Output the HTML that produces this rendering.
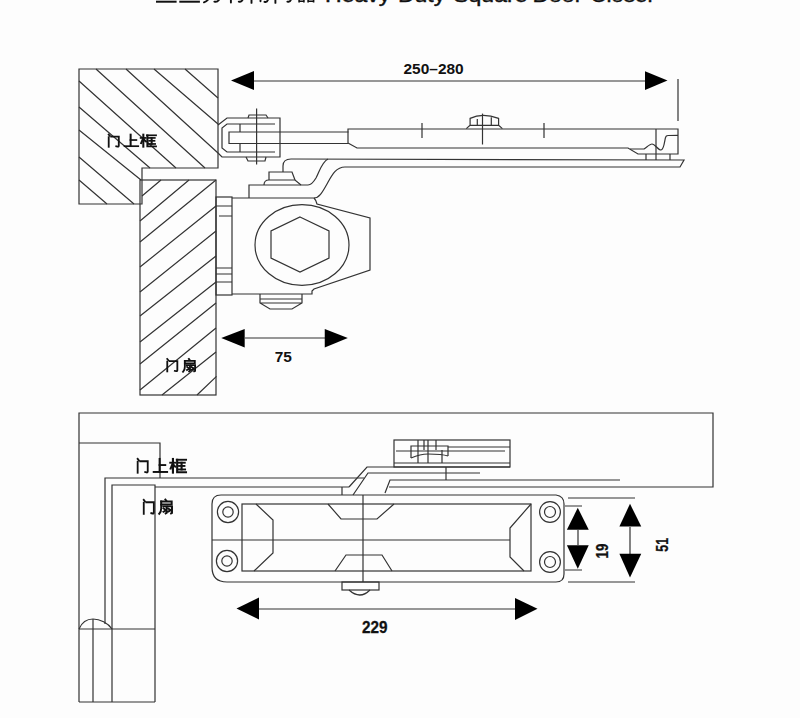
<!DOCTYPE html>
<html>
<head>
<meta charset="utf-8">
<style>
html,body{margin:0;padding:0;background:#fdfdfd;width:800px;height:718px;overflow:hidden;}
svg{position:absolute;left:0;top:0;display:block;}
text{font-family:"Liberation Sans",sans-serif;}
</style>
</head>
<body>
<svg width="800" height="718" viewBox="0 0 800 718">
<defs>
<g id="gmen" fill="none" stroke="#111" stroke-width="13" stroke-linecap="square">
<path d="M14,4 L22,14"/><path d="M14,24 L14,98"/><path d="M32,20 L86,20 L86,90 Q86,97 78,96 L68,94"/>
</g>
<g id="gshang" fill="none" stroke="#111" stroke-width="13" stroke-linecap="square">
<path d="M46,4 L46,92"/><path d="M46,46 L82,46"/><path d="M8,93 L94,93"/>
</g>
<g id="gkuang" fill="none" stroke="#111" stroke-width="13" stroke-linecap="square">
<path d="M2,30 L32,30"/><path d="M18,4 L18,98"/><path d="M17,34 L4,70"/><path d="M22,44 L32,56"/>
<path d="M42,10 L98,10"/><path d="M44,10 L44,95 L98,95"/><path d="M54,30 L90,30"/><path d="M56,52 L88,52"/><path d="M52,76 L92,76"/><path d="M71,30 L71,76"/>
</g>
<g id="gshan" fill="none" stroke="#111" stroke-width="13" stroke-linecap="square">
<path d="M46,2 L52,10"/><path d="M18,16 L88,16 L88,36 L18,36"/><path d="M18,16 L18,60 Q18,85 5,98"/>
<path d="M32,48 L54,48 L54,92 L48,95"/><path d="M34,62 L44,70"/><path d="M33,84 L47,76"/>
<path d="M62,48 L90,48 L90,92 L84,95"/><path d="M64,62 L76,70"/><path d="M63,84 L78,76"/>
</g>
</defs>

<!-- ================= TITLE STRIP ================= -->
<g fill="#111" stroke="none">
<rect x="156" y="0.7" width="20.6" height="2"/>
<rect x="179.3" y="0.7" width="20.6" height="2"/>
</g>
<g fill="none" stroke="#111" stroke-width="1.9" stroke-linecap="round">
<path d="M204,2.4 Q206.5,1.6 207.8,0"/>
<path d="M214.4,1.6 Q217,2.4 218.9,0"/>
<path d="M230.9,0 L230.9,2.6"/>
<path d="M238.8,1.6 Q241.5,2.4 242.5,0"/>
<path d="M251.5,0 L251.5,2.9"/>
<path d="M260.5,0 L260.5,1.2"/>
<path d="M264.5,1.8 Q267,2.6 267.9,0"/>
<path d="M275.4,0 L275.4,2.9"/>
<path d="M287.4,1.6 Q290,2.4 290.8,0"/>
</g>
<g fill="none" stroke="#111" stroke-width="1.6"><path d="M299.1,0 L299.1,2.4 M303.9,0 L303.9,2.4 M299.1,1.3 L303.9,1.3 M308.1,0 L308.1,2.4 M313.6,0 L313.6,2.4 M308.1,1.3 L313.6,1.3"/></g>
<g font-size="21" fill="#111" stroke="#111" stroke-width="0.45"><text x="325" y="1.7" textLength="65.28" lengthAdjust="spacingAndGlyphs">Heavy</text><text x="397.9" y="1.7" textLength="47.37" lengthAdjust="spacingAndGlyphs">Duty</text><text x="453.2" y="1.7" textLength="74.27" lengthAdjust="spacingAndGlyphs">Square</text><text x="532.4" y="1.7" textLength="49.92" lengthAdjust="spacingAndGlyphs">Door</text><text x="590.2" y="1.7" textLength="64.8" lengthAdjust="spacingAndGlyphs">Closer</text></g>

<!-- ================= TOP FIGURE ================= -->
<g fill="none" stroke="#333" stroke-width="1.2">
<!-- frame -->
<path d="M79,69 L218,69 L218,168 L142,168 L142,204 L79,204 Z"/>
<path d="M185,69 L218,98 M154,69 L218,124 M126,69 L218,153 M96,69 L205,168 M79,81 L176,168 M79,107 L150,168 M79,130 L141,180 M79,157 L134,204 M79,180 L107,204"/>
<!-- leaf -->
<rect x="140" y="180" width="76" height="215"/>
<path d="M142,196 L161,180 M140,221 L189,180 M140,242 L216,180 M140,267 L216,206 M140,292 L216,231 M140,316 L216,256 M140,342 L216,282 M140,364 L216,303 M140,390 L216,328 M162,395 L216,352 M197,395 L216.5,376.4"/>
<!-- hinge bracket -->
<path d="M218,125 L227,118 L280,118 L280,157 L222,157 L218,153"/>
<path d="M275,124 L227,124 L222,128 L222,148 L227,152 L275,152"/>
<path d="M240,124 L240,132 M240,144 L240,152"/>
<path d="M348.5,132 L229,132 L229,143.5 L348.5,143.5"/>
<path d="M256.6,108.5 L256.6,164.5"/>
<path d="M248,118 L249,115 L266,115 L268,118"/>
<path d="M246,157 L248,161 L265,161 L266,157"/>
<!-- thick arm -->
<path d="M348,143 L348,129 L678,129 L678,154 L638,154 L628,148 L357,148 L348,143"/>
<path d="M422,123 L422,138 M544,123 L544,138"/>
<path d="M466.3,128.6 L470.1,125.3 L470.1,118.4 Q482.5,112.5 498.6,118.4 L498.6,125.3 L502.4,128.6 M470.1,125.3 L498.6,125.3"/>
<path d="M477.3,119.1 L477.3,125.3 M491.3,117.2 L491.3,125.3"/>
<path d="M482.5,113.6 L482.5,144.5"/>
<path d="M656,129 L656,160"/>
<path d="M630,149 L644,149 C647,147 650,144 652,144 C655,144 658,150 661,150 C664,150 664.5,141 665.5,137.5 Q666,135.5 668,135.5 L678,135.3"/>
<path d="M646,154 L646,160 M670,154 L670,160"/>
<!-- link -->
<path d="M283,172 L283,166 Q283,159 291,159 L684,160 L680,167 L345,167 C336,167 332,175 327,184 C322,193 319,198 314,198"/>
<path d="M328,159 C322,162 320,170 316,178 C313,183 311,185 308,185 L249,185 L249,198"/>
<path d="M269,180 L269,172 L292,172 L295,180"/>
<path d="M264,185 Q264,180 269,180 L295,180 L301,185"/>
<!-- plate -->
<rect x="216" y="197" width="16" height="98"/>
<path d="M216,206 L232,206 M219,216 L232,216 M216,268 L232,268 M216,274 L232,274 M216,282 L232,282"/>
<!-- body -->
<path d="M232,198 L314,198 Q316,200 317,204 L370,218 L370,270 L314,289 L312,291 L312,294 L232,294"/>
<ellipse cx="302" cy="245" rx="47" ry="40.4"/>
<path d="M300,217 L329,231 L329,258 L300,272 L271,258 L271,231 Z"/>
<path d="M260,294 L260,303 L270,309 L292,309 L302,303 L302,294 M260,299 L302,299 M260,303 L302,303"/>
<!-- dims -->
<path d="M254,81 L645,81"/>
<path d="M678,79 L678,121"/>
<path d="M245,338 L325,338"/>
</g>
<g fill="#000" stroke="none">
<path d="M231,80.5 L254,71 L254,90 Z"/>
<path d="M667.5,80.5 L645,71.2 L645,90 Z"/>
<path d="M221.25,338.1 L244.7,329.1 L244.7,347.5 Z"/>
<path d="M347.8,338.1 L324.75,329.1 L324.75,347.5 Z"/>
</g>
<g font-weight="bold" fill="#111" font-size="15">
<text x="403.5" y="73.7" textLength="60.2" lengthAdjust="spacingAndGlyphs">250–280</text>
<text x="274.7" y="361.6" textLength="17.2" lengthAdjust="spacingAndGlyphs" font-size="15.3">75</text>
</g>
<use href="#gmen" transform="translate(106.75,134) scale(0.14,0.131)"/>
<use href="#gshang" transform="translate(123.5,134) scale(0.155,0.131)"/>
<use href="#gkuang" transform="translate(140.5,134) scale(0.157,0.131)"/>
<use href="#gmen" transform="translate(165.3,358.4) scale(0.14,0.133)"/>
<use href="#gshan" transform="translate(182.3,358.6) scale(0.142,0.135)"/>

<!-- ================= BOTTOM FIGURE ================= -->
<g fill="none" stroke="#333" stroke-width="1.2">
<path d="M79,702 L79,413 L713,413 L713,487 L389,487"/>
<path d="M79,443 L160,443 L160,478"/>
<path d="M105,624 L105,478 L364,478"/>
<path d="M112,702 L112,485 L155,485 L155,702"/>
<path d="M155,487 L349,487"/>
<path d="M79,702 L155,702 M79,629 L155,629 M93,619 L93,702"/>
<path d="M79,629 C82,622 87,619 93,619 C100,619 108,623 112,629"/>
<path d="M349,487 L367,467 L510,467"/>
<path d="M353,495 L368,473 L480,473"/>
<path d="M385,493 L390,480 L620,480"/>
<path d="M342,487 L342,495 M446,467 L446,480"/>
<!-- arm plate -->
<rect x="394" y="440" width="116" height="27"/>
<path d="M394,463 L510,463 M396,451 L505,451 M448,447 L510,447"/>
<path d="M418,440 L418,463 M424,440 L424,450 M428,440 L428,463 M436,440 L436,450 M442,450 L442,463"/>
<path d="M411,458 L411,446 L448,446 L448,456"/>
<path d="M411,458 C418,455 422,454 428,454 C436,454 442,454 448,456"/>
<!-- body -->
<path d="M221,495 L556,495 Q564,496 564,504 L564,574 Q564,582 556,582 L227,582 Q212,582 212,567 L212,504 Q212,495 221,495 Z"/>
<rect x="242" y="504" width="289" height="67"/>
<path d="M212,540 L510,540"/>
<path d="M256,504 L273,520 L273,553 L254,571"/>
<path d="M531,504 L510,528 L510,557 L524,571"/>
<path d="M328,504 L341,519 L377,519 L394,504"/>
<path d="M335,571 L346,555 L382,555 L392,571"/>
<path d="M363,495 L363,582"/>
<circle cx="228" cy="512" r="10.6"/><circle cx="228" cy="512" r="5.2"/>
<circle cx="227" cy="561" r="10.6"/><circle cx="227" cy="561" r="5.2"/>
<circle cx="550" cy="512" r="10.4"/><circle cx="550" cy="512" r="5.5"/>
<circle cx="550" cy="562" r="10.4"/><circle cx="550" cy="562" r="5.5"/>
<rect x="342" y="582" width="37" height="8"/>
<path d="M349,590 Q360,600 370,590"/>
<!-- dims -->
<path d="M259,609 L515,609"/>
<path d="M565,506 L582,506 M565,570 L582,570 M578,530 L578,545"/>
<path d="M568,498 L635,498 M568,582 L635,582 M630,527 L630,554"/>
</g>
<g fill="#000" stroke="none">
<path d="M236.5,608.5 L259,597.5 L259,619.5 Z"/>
<path d="M537.5,608.7 L515,598 L515,620 Z"/>
<path d="M577.8,507.8 L566.9,529.7 L588.75,529.7 Z"/>
<path d="M577.8,568.75 L566.9,545.3 L588.75,545.3 Z"/>
<path d="M630,503.75 L619.4,526.6 L641.25,526.6 Z"/>
<path d="M630,577.5 L619.4,553.75 L641.25,553.75 Z"/>
</g>
<g font-weight="bold" fill="#111" font-size="15.5">
<text x="362" y="633" textLength="25.5" lengthAdjust="spacingAndGlyphs" font-size="16.5" stroke="#111" stroke-width="0.3">229</text>
<text transform="translate(608,558.5) rotate(-90)" x="0" y="0" textLength="14.8" lengthAdjust="spacingAndGlyphs" font-size="16.5" stroke="#111" stroke-width="0.3">19</text>
<text transform="translate(668,551.7) rotate(-90)" x="0" y="0" textLength="13.9" lengthAdjust="spacingAndGlyphs" font-size="16.5" stroke="#111" stroke-width="0.3">51</text>
</g>
<use href="#gmen" transform="translate(135.7,458.3) scale(0.14,0.147)"/>
<use href="#gshang" transform="translate(152.5,458.3) scale(0.155,0.147)"/>
<use href="#gkuang" transform="translate(170,458.3) scale(0.163,0.147)"/>
<use href="#gmen" transform="translate(141.8,499.2) scale(0.14,0.149)"/>
<use href="#gshan" transform="translate(158.5,499.2) scale(0.15,0.149)"/>
</svg>
</body>
</html>
